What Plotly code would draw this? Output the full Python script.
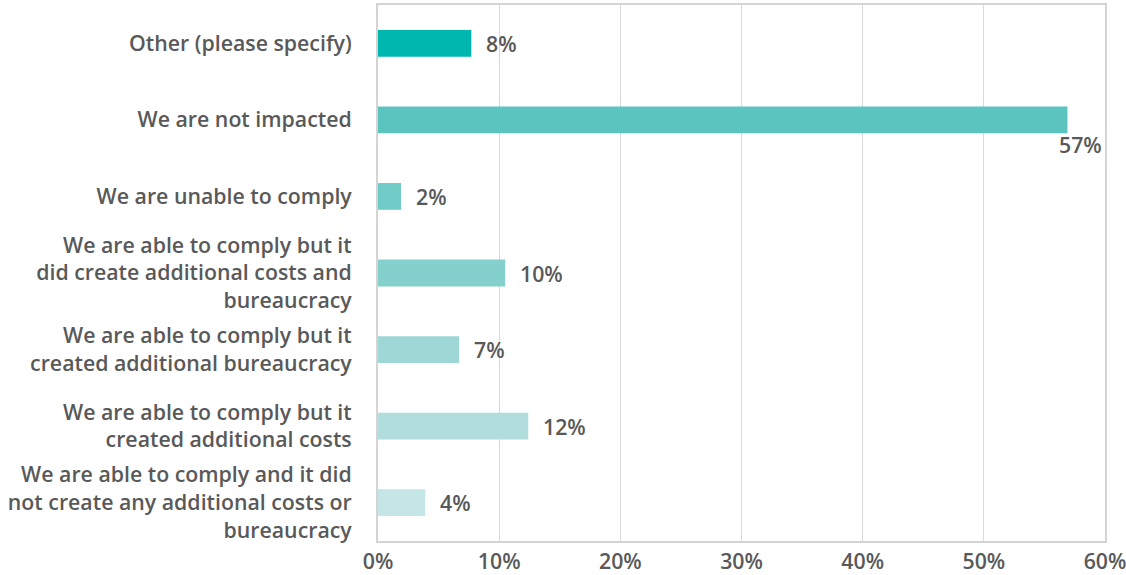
import plotly.graph_objects as go

categories = [
    "We are able to comply and it did<br>not create any additional costs or<br>bureaucracy",
    "We are able to comply but it<br>created additional costs",
    "We are able to comply but it<br>created additional bureaucracy",
    "We are able to comply but it<br>did create additional costs and<br>bureaucracy",
    "We are unable to comply",
    "We are not impacted",
    "Other (please specify)",
]
values = [3.9, 12.4, 6.7, 10.5, 1.9, 56.9, 7.7]
labels = ["4%", "12%", "7%", "10%", "2%", "57%", "8%"]
colors = ["#C5E6E6", "#B1DEDD", "#9DD8D6", "#84D0CC", "#71CBC6", "#5BC4BF", "#00B7B0"]
tick_vals = [0, 10, 20, 30, 40, 50, 60]
tick_text = ["0%", "10%", "20%", "30%", "40%", "50%", "60%"]

FONT = dict(family="Open Sans", size=21.3, color="#595959", weight=600)

fig = go.Figure(go.Bar(
    x=values, y=categories, orientation="h",
    marker=dict(color=colors, line=dict(width=0)),
    width=0.35, hoverinfo="skip",
))

for v, c, t in zip(values, categories, labels):
    if v > 50:
        fig.add_annotation(x=v, y=c, text=t, showarrow=False, xanchor="left",
                           xshift=-10, yshift=-25, font=FONT)
    else:
        fig.add_annotation(x=v, y=c, text=t, showarrow=False, xanchor="left",
                           xshift=13, font=FONT)

fig.update_layout(
    width=1126, height=575,
    margin=dict(l=378, r=21, t=5, b=34),
    plot_bgcolor="white", paper_bgcolor="white",
    showlegend=False,
    font=FONT,
)
fig.update_xaxes(range=[0, 60], tickvals=tick_vals, ticktext=tick_text,
                 showgrid=True, gridcolor="#D9D9D9", gridwidth=1,
                 showline=True, linecolor="#D4D4D4", linewidth=2, mirror=True,
                 zeroline=False, tickfont=FONT, ticks="", ticklabelstandoff=0,
                 ticklabeloverflow="allow", automargin=False)
fig.update_yaxes(showgrid=False, showline=True, linecolor="#D4D4D4", linewidth=2,
                 mirror=True, tickfont=FONT, ticks="", ticklabelstandoff=20,
                 range=[-0.5, 6.5], automargin=False)

fig.write_html("out.html", config={"displayModeBar": False},
               post_script="document.body.style.margin='0';")
